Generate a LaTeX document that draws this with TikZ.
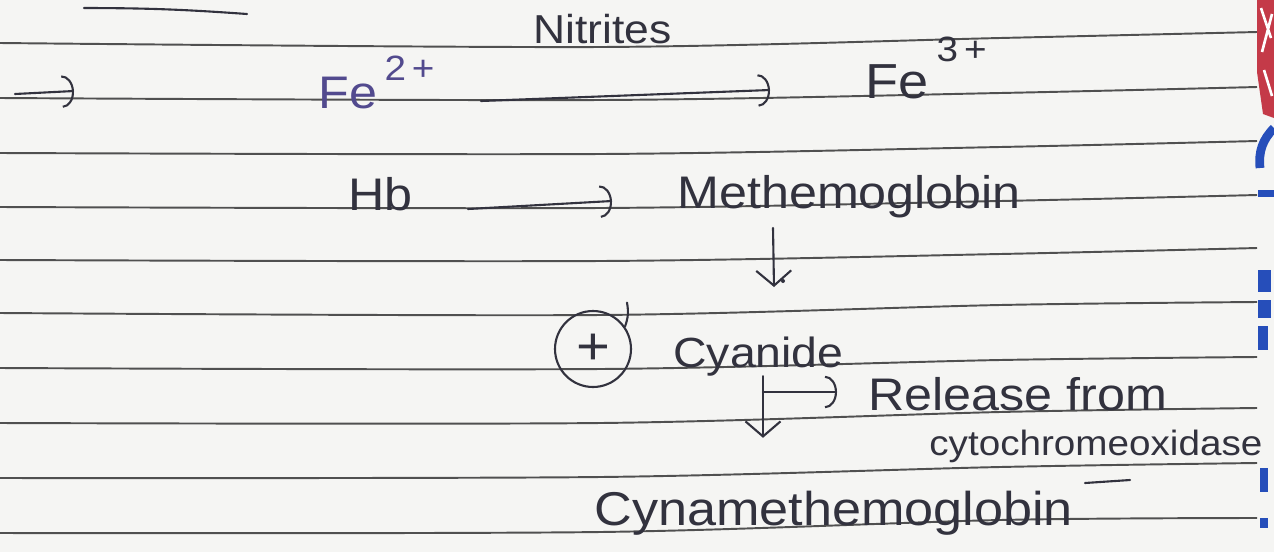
\documentclass[tikz,border=0pt]{standalone}
\usepackage{fontspec}
\setmainfont[FakeStretch=1.1]{Liberation Sans}
\usetikzlibrary{arrows.meta,calc,positioning}

\definecolor{paper}{RGB}{245,245,243}
\definecolor{ruling}{RGB}{80,80,80}
\definecolor{ink}{RGB}{50,50,62}
\definecolor{bluink}{RGB}{82,74,142}
\definecolor{spinered}{RGB}{196,58,72}
\definecolor{spineblue}{RGB}{38,78,186}

% charge written as a raised superscript
\newcommand{\chg}[3]{#1\,\raisebox{#3}{\fontsize{20}{20}\selectfont #2}}

\tikzset{
  hand/.style={text=ink, inner sep=0pt, anchor=base west, font=\fontsize{#1}{#1}\selectfont},
  hand/.default=26,
  pen/.style={draw=ink, line width=1.2pt, line cap=round},
  curvehead/.style={pen, -{Arc Barb[length=2.4mm, width=6.5mm]}},
  vhead/.style={pen, -{Straight Barb[length=3mm, width=7mm]}},
}

\begin{document}
\begin{tikzpicture}[x=0.02cm, y=-0.02cm]
  \useasboundingbox (0,0) rectangle (1274,552);
  \fill[paper] (0,0) rectangle (1274,552);

  % ruled lines of the notebook
  \foreach \ya/\yb/\yc/\yd in {43/47/38/32, 98/100/93/87, 153/154/147/141,
      207/208/201/195, 260/261/254/248, 313/315/305/302, 368/369/360/357,
      423/423/412/408, 478/477/467/463, 533/532/520/518}
    \draw[ruling, line width=1.1pt] plot[smooth] coordinates {(0,\ya) (600,\yb) (1000,\yc) (1257,\yd)};

  % spine of the notebook
  \fill[spinered] (1257,0) -- (1274,0) -- (1274,118) -- (1263,114) -- (1257,72) -- cycle;
  \draw[white, line width=1.5pt] (1261,8) -- (1271,38) (1272,14) -- (1262,52) (1264,70) -- (1272,96);
  \draw[spineblue, line width=5pt] (1260,168) to[bend left=25] (1274,128);
  \fill[spineblue] (1258,190) rectangle (1274,197);
  \fill[spineblue] (1258,270) rectangle (1271,292);
  \fill[spineblue] (1258,300) rectangle (1271,318);
  \fill[spineblue] (1258,326) rectangle (1268,350);
  \fill[spineblue] (1260,468) rectangle (1268,492);
  \fill[spineblue] (1260,518) rectangle (1268,528);

  % heading stroke
  \draw[pen] (84,8) to[bend left=2] (247,14);

  % first row
  \coordinate (lt) at (15,94);
  \coordinate (lh) at (74,91);
  \draw[curvehead] (lt) -- (lh);
  \node[hand=23] (nitrites) at (533,43) {Nitrites};
  \node[hand=26, text=bluink] (fe2) at (318,108) {\chg{Fe}{2\,+}{0.6em}};
  \node[hand=28] (fe3) at (865,98) {\chg{Fe}{3\,+}{0.75em}};
  \draw[curvehead] ($(fe2.base east)+(46,-7)$) -- ($(fe3.base west)+(-95,-8)$);

  % second row
  \node[hand=26] (hb) at (348,210) {Hb};
  \node[hand=26] (methb) at (677,208) {Methemoglobin};
  \draw[curvehead] ($(hb.base east)+(55,-1)$) -- ($(methb.base west)+(-65,-7)$);
  \draw[vhead] ($(methb.base west)+(96,20)$) -- ++(1,59);
  \fill[ink] (783,281) circle (2);

  % cyanide
  \node[draw=ink, line width=1.2pt, circle, minimum size=1.52cm, inner sep=0pt,
        text=ink, font=\fontsize{30}{30}\selectfont] (plus) at (593,349) {+};
  \draw[pen] (plus.35) to[bend right=15] ++(2,-24);
  \node[hand=24] (cyan) at (673,367) {Cyanide};
  \coordinate (split) at (763,392);
  \draw[pen] (cyan.south -| split) -- (split);

  % products
  \node[hand=26] (release) at (868,410) {Release from};
  \node[hand=20] (cyto) at (929,455) {cytochromeoxidase};
  \node[hand=27] (cynameth) at (594,525) {Cynamethemoglobin};
  \draw[curvehead, shorten >=0.62cm] (split) -- (release.west |- split);
  \draw[vhead, shorten >=1.05cm] (split) -- (split |- cynameth.north);
  \draw[pen] (1085,483) -- (1130,480);
\end{tikzpicture}
\end{document}
